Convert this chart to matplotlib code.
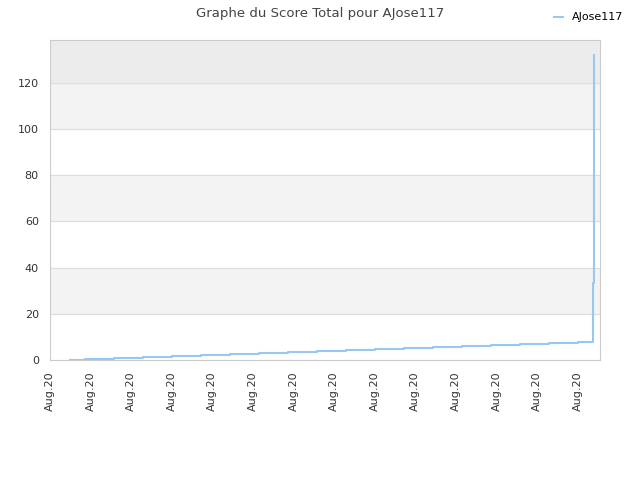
import pandas as pd
import matplotlib
matplotlib.use("Agg")
import matplotlib.pyplot as plt
from matplotlib.dates import DateFormatter, date2num
from matplotlib.ticker import FixedLocator

# Score readings (timestamps, all in Aug 2020)
times = pd.to_datetime([
    "2020-08-10 03:30", "2020-08-10 06:00", "2020-08-10 11:00", "2020-08-10 16:00",
    "2020-08-10 21:00", "2020-08-11 02:00", "2020-08-11 07:00", "2020-08-11 12:00",
    "2020-08-11 17:00", "2020-08-11 22:00", "2020-08-12 03:00", "2020-08-12 08:00",
    "2020-08-12 13:00", "2020-08-12 18:00", "2020-08-12 23:00", "2020-08-13 04:00",
    "2020-08-13 09:00", "2020-08-13 14:00", "2020-08-13 19:00",
    "2020-08-13 21:34", "2020-08-13 21:36", "2020-08-13 21:45", "2020-08-13 21:46",
    "2020-08-13 21:47", "2020-08-13 21:48",
])
scores = [0.2, 0.6, 1.0, 1.5, 1.9, 2.3, 2.8, 3.2, 3.6, 4.1, 4.5, 4.9, 5.4, 5.8,
          6.2, 6.7, 7.1, 7.5, 7.9, 23, 33.4, 44, 70, 99, 132]
player = "AJose117"

fig = plt.figure(figsize=(6.4, 4.8), dpi=100)
ax = fig.add_axes([0.078, 0.25, 0.8595, 0.6667])

# alternating bands
for lo in (20, 60, 100):
    ax.axhspan(lo, lo + 20, color="#f3f3f3", zorder=0)
ax.axhspan(120, 140, color="#ececec", zorder=0)

ax.plot(times, scores, drawstyle="steps-post", color="#99c7f4", lw=1.5, label=player, zorder=3)

ax.set_ylim(0, 138.5)
ax.set_xlim(pd.Timestamp("2020-08-10 00:00"), pd.Timestamp("2020-08-13 22:51"))
ax.set_yticks(range(0, 121, 20))
ax.yaxis.grid(True, color="#dddddd", lw=0.8)
ax.set_axisbelow(True)

ticks = [date2num(pd.Timestamp("2020-08-10") + pd.Timedelta(hours=7 * i)) for i in range(14)]
ax.xaxis.set_major_locator(FixedLocator(ticks))
ax.xaxis.set_major_formatter(DateFormatter("%b.%y"))
plt.setp(ax.get_xticklabels(), rotation=90)

ax.tick_params(length=0, labelsize=8, colors="#333333", pad=8)
for s in ax.spines.values():
    s.set_color("#cccccc")

fig.suptitle(f"Graphe du Score Total pour {player}", fontsize=9.5, color="#444444", y=0.985)
fig.legend(loc="upper right", bbox_to_anchor=(0.99, 0.995), frameon=False, fontsize=8,
           handlelength=0.8)

fig.savefig("out.png")
